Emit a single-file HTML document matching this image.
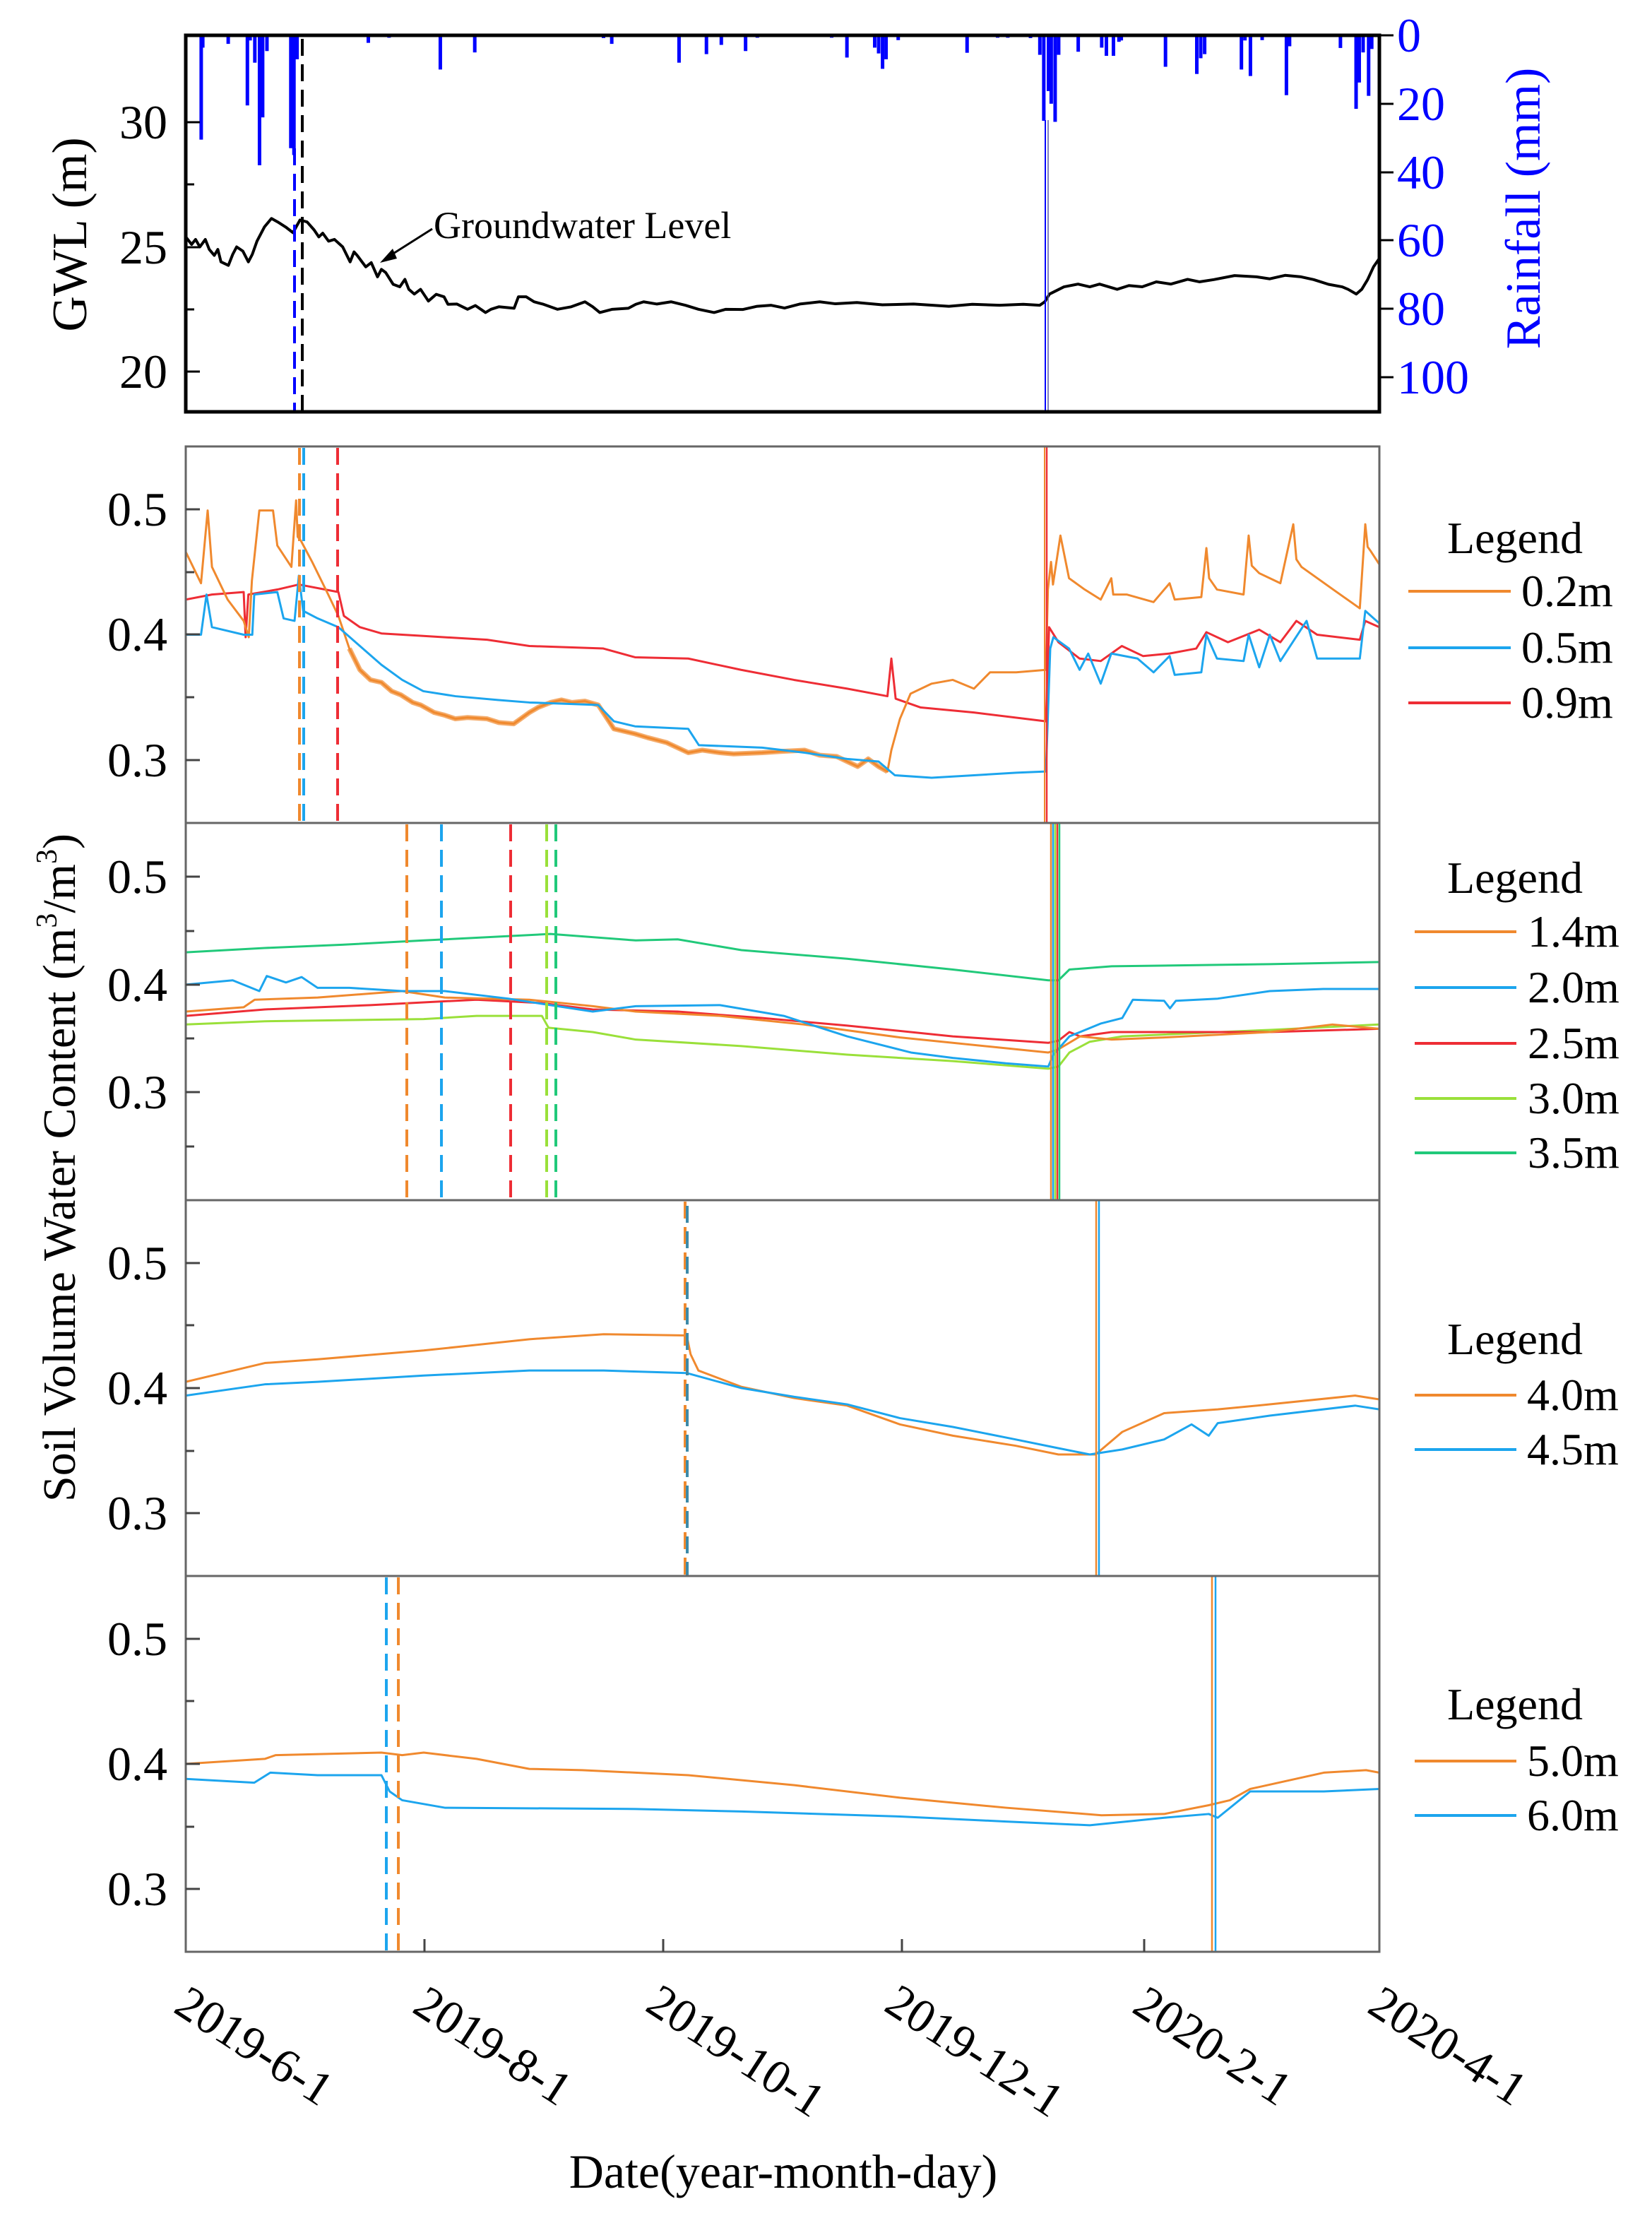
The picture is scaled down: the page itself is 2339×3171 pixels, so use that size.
<!DOCTYPE html>
<html><head><meta charset="utf-8"><style>
html,body{margin:0;padding:0;background:#fff}
svg{display:block}
text{font-family:"Liberation Serif",serif}
</style></head><body>
<svg width="2339" height="3171" viewBox="0 0 2339 3171" xmlns="http://www.w3.org/2000/svg">
<rect width="2339" height="3171" fill="#fff"/>

<!-- ===== TOP PANEL ===== -->
<svg x="263" y="50" width="1690" height="533" viewBox="0 0 305 110.1" preserveAspectRatio="none">
<g fill="#0000ff">
<rect x="3.5" y="0" width="0.9" height="30.5"/><rect x="3.9" y="0" width="0.9" height="3.6"/>
<rect x="10.4" y="0" width="0.9" height="2.5"/><rect x="15.3" y="0" width="0.9" height="20.5"/>
<rect x="16" y="0" width="0.9" height="1.5"/><rect x="17.2" y="0" width="0.9" height="8"/>
<rect x="18.4" y="0" width="0.9" height="38"/><rect x="19.2" y="0" width="0.9" height="24"/>
<rect x="20.3" y="0" width="0.9" height="4.6"/><rect x="26.4" y="0" width="0.9" height="33"/>
<rect x="27.2" y="0" width="0.9" height="35"/><rect x="28" y="0" width="0.9" height="7"/>
<rect x="46.2" y="0" width="0.9" height="2.2"/><rect x="51.5" y="0" width="0.9" height="0.7"/>
<rect x="64.6" y="0" width="0.9" height="10"/><rect x="73.4" y="0" width="0.9" height="5"/>
<rect x="106.3" y="0" width="0.9" height="0.8"/><rect x="108.4" y="0" width="0.9" height="2.5"/>
<rect x="125.6" y="0" width="0.9" height="8"/><rect x="132.6" y="0" width="0.9" height="5.5"/>
<rect x="136.4" y="0" width="0.9" height="2.8"/><rect x="142.6" y="0" width="0.9" height="4.6"/>
<rect x="145.6" y="0" width="0.9" height="0.7"/><rect x="164.6" y="0" width="0.9" height="0.7"/>
<rect x="168.5" y="0" width="0.9" height="6.5"/><rect x="175.6" y="0" width="0.9" height="3.6"/>
<rect x="176.6" y="0" width="0.9" height="5.3"/><rect x="177.6" y="0" width="0.9" height="9.8"/>
<rect x="178.5" y="0" width="0.9" height="7"/><rect x="181.6" y="0" width="0.9" height="1.4"/>
<rect x="199.2" y="0" width="0.9" height="5.1"/><rect x="207" y="0" width="0.9" height="0.7"/>
<rect x="209.6" y="0" width="0.9" height="0.7"/><rect x="215.4" y="0" width="0.9" height="0.8"/>
<rect x="217.8" y="0" width="0.9" height="5.7"/><rect x="218.8" y="0" width="0.9" height="25"/>
<rect x="220" y="0" width="0.9" height="16.3"/><rect x="220.7" y="0" width="0.9" height="20"/>
<rect x="221.7" y="0" width="0.9" height="25.3"/><rect x="222.6" y="0" width="0.9" height="5.7"/>
<rect x="227.6" y="0" width="0.9" height="4.8"/><rect x="233.6" y="0" width="0.9" height="3.6"/>
<rect x="234.8" y="0" width="0.9" height="6"/><rect x="236.6" y="0" width="0.9" height="6"/>
<rect x="238" y="0" width="0.9" height="1.9"/><rect x="238.6" y="0" width="0.9" height="1.5"/>
<rect x="249.9" y="0" width="0.9" height="9.2"/><rect x="257.9" y="0" width="0.9" height="11.3"/>
<rect x="258.9" y="0" width="0.9" height="6.7"/><rect x="259.9" y="0" width="0.9" height="5.5"/>
<rect x="269.3" y="0" width="0.9" height="10"/><rect x="270.2" y="0" width="0.9" height="1.5"/>
<rect x="271.6" y="0" width="0.9" height="11.9"/><rect x="274.6" y="0" width="0.9" height="1.4"/>
<rect x="280.8" y="0" width="0.9" height="17.5"/><rect x="281.6" y="0" width="0.9" height="3.2"/>
<rect x="294.6" y="0" width="0.9" height="3.7"/><rect x="298.6" y="0" width="0.9" height="21.5"/>
<rect x="299.4" y="0" width="0.9" height="13.8"/><rect x="300.4" y="0" width="0.9" height="5"/>
<rect x="301.8" y="0" width="0.9" height="17.7"/><rect x="302.6" y="0" width="0.9" height="4"/>
</g>
</svg>
<svg x="263" y="50" width="1690" height="533" viewBox="0 -3348 305 1509" preserveAspectRatio="none">
<polyline fill="none" stroke="#000" stroke-width="4" vector-effect="non-scaling-stroke" stroke-linejoin="round" points="0,-2540 1.5,-2510 2.5,-2530 3.6,-2500 5,-2530 6,-2490 7.3,-2466 8.2,-2490 9,-2440 10.9,-2426 12,-2470 13,-2500 14.6,-2483 16,-2440 17,-2470 18.2,-2523 20.1,-2580 21.9,-2614 23.5,-2600 25.5,-2580 27.4,-2557 29.2,-2608 31,-2600 32.8,-2568 34,-2540 35,-2555 36.5,-2523 38,-2530 40.1,-2500 42,-2440 43,-2480 43.8,-2466 46,-2420 47.4,-2437 49,-2380 50,-2410 51.1,-2397 53,-2350 54.7,-2340 56,-2370 57,-2330 58.4,-2311 60,-2330 62,-2283 64,-2310 66,-2300 67,-2270 69.3,-2271 72,-2250 74,-2265 76.6,-2237 78,-2250 80,-2260 83.9,-2254 85,-2300 87,-2300 89,-2280 91.2,-2271 95,-2250 98.5,-2260 102,-2280 104,-2260 105.8,-2237 109,-2250 113.1,-2254 115,-2270 117,-2280 120.4,-2271 124,-2280 127.7,-2266 131,-2250 135,-2237 138,-2250 142.3,-2249 146,-2262 149.6,-2266 153,-2255 156.9,-2271 162,-2280 166,-2272 171.5,-2277 178,-2268 186,-2271 195,-2262 201,-2270 208,-2266 214,-2270 218.2,-2266 219.5,-2280 220.7,-2311 224.4,-2340 228,-2351 231,-2340 233.5,-2351 238,-2330 241,-2345 244.4,-2340 248,-2360 251.7,-2351 256,-2370 259,-2360 262.7,-2369 268,-2385 273.6,-2380 277,-2372 280.9,-2386 285,-2380 288.2,-2369 292,-2350 295.5,-2340 297,-2330 299.1,-2311 300.5,-2330 302,-2369 303.5,-2420 305,-2454"/>
</svg>
<line x1="417" y1="210" x2="417" y2="583" stroke="#0000ff" stroke-width="4" stroke-dasharray="24,12"/>
<line x1="428" y1="55" x2="428" y2="583" stroke="#000" stroke-width="4" stroke-dasharray="24,12"/>
<line x1="1480" y1="170" x2="1480" y2="583" stroke="#0000ff" stroke-width="2"/>
<line x1="1484" y1="170" x2="1484" y2="583" stroke="#5555aa" stroke-width="1.5"/>
<rect x="263" y="50" width="1690" height="533" fill="none" stroke="#000" stroke-width="5"/>
<g stroke="#000" stroke-width="3">
<line x1="263" y1="173" x2="283" y2="173"/><line x1="263" y1="261" x2="275" y2="261"/>
<line x1="263" y1="350" x2="283" y2="350"/><line x1="263" y1="438" x2="275" y2="438"/>
<line x1="263" y1="526" x2="283" y2="526"/>
<line x1="1953" y1="50" x2="1973" y2="50"/><line x1="1953" y1="147" x2="1973" y2="147"/>
<line x1="1953" y1="244" x2="1973" y2="244"/><line x1="1953" y1="340" x2="1973" y2="340"/>
<line x1="1953" y1="437" x2="1973" y2="437"/><line x1="1953" y1="534" x2="1973" y2="534"/>
</g>
<g font-size="68" text-anchor="end" fill="#000">
<text x="237" y="196">30</text><text x="237" y="373">25</text><text x="237" y="549">20</text>
</g>
<g font-size="68" fill="#0000ff">
<text x="1978" y="73">0</text><text x="1978" y="170">20</text><text x="1978" y="267">40</text>
<text x="1978" y="363">60</text><text x="1978" y="460">80</text><text x="1978" y="557">100</text>
</g>
<text transform="translate(122,332) rotate(-90)" font-size="70" text-anchor="middle">GWL (m)</text>
<text transform="translate(2180,295) rotate(-90)" font-size="70" text-anchor="middle" fill="#0000ff">Rainfall (mm)</text>
<text x="614" y="337" font-size="54">Groundwater Level</text>
<line x1="612" y1="324" x2="552" y2="362" stroke="#000" stroke-width="3"/>
<polygon points="538,372 556,352 562,366" fill="#000"/>

<!-- ===== PANEL 2 ===== -->
<svg x="263" y="632" width="1690" height="533" viewBox="0 -550 305 300" preserveAspectRatio="none">
<g fill="none" stroke-linejoin="round">
<polyline stroke="#ee2d35" stroke-width="3" vector-effect="non-scaling-stroke" points="0,-428 6.7,-432 14.8,-434 15.3,-398 16,-432 23.4,-436 28.9,-440 39,-434 40.4,-415 44.5,-406 50,-401 60.7,-399 77,-396 87.8,-391 106.7,-389 114.8,-382 128.4,-381 141.9,-372 155.4,-364 169,-357 179.3,-351 180.3,-381 181.4,-349 187.8,-342 201.4,-338 219.8,-331 220.6,-406 223,-394 228.4,-381 233.8,-379 239.2,-391 244.6,-383 251.4,-385 258.2,-389 260.8,-402 266.3,-394 274.3,-404 279.7,-394 283.8,-411 289.1,-400 300,-396 301.4,-411 305,-406"/>
<polyline stroke="#f0892e" stroke-width="3" vector-effect="non-scaling-stroke" points="0,-466 3.9,-441 5.6,-499 6.7,-454 10.7,-428 14.8,-411 16.1,-398 16.9,-443 18.8,-499 22.3,-499 23.4,-471 27,-454 28.2,-507 28.6,-478 29.4,-475 32.3,-458 36.4,-432 39,-415 41.8,-389 44.5,-372 47.2,-364 50,-362 52.6,-355 55,-352 58,-346 60,-344 63.5,-338 66,-336 68.9,-333 72,-334 77,-333 80,-330 83.8,-329 87.8,-338 90,-342 93.2,-346 96,-348 98.6,-346 102,-347 105.4,-344 109.4,-325 114.8,-321 118,-318 122.9,-314 128.4,-306 132,-308 136.5,-306 140,-305 147.3,-306 152,-307 158.1,-308 162,-304 166.3,-303 171.7,-295 174.4,-301 177,-295 179.3,-291 180.3,-308 182.5,-333 185.2,-353 190.6,-361 196,-364 201.4,-357 205.5,-370 212.2,-370 219.8,-372 220.3,-436 221.1,-458 221.6,-440 223.5,-479 225.7,-445 229.7,-436 233.8,-428 236.5,-445 237,-432 240.5,-432 247.3,-426 251.4,-441 252.7,-428 259.5,-430 260.8,-469 261.5,-445 263.5,-436 270.3,-432 271.6,-479 272.4,-455 274.3,-449 279.7,-441 283,-488 283.8,-460 285.1,-454 293.2,-436 300,-421 301.4,-488 302,-470 302.7,-467 305,-456"/>
<polyline stroke="#f0892e" stroke-width="7" stroke-opacity="0.7" vector-effect="non-scaling-stroke" points="41.8,-389 44.5,-372 47.2,-364 50,-362 52.6,-355 55,-352 58,-346 60,-344 63.5,-338 66,-336 68.9,-333 72,-334 77,-333 80,-330 83.8,-329 87.8,-338 90,-342 93.2,-346 96,-348 98.6,-346 102,-347 105.4,-344 109.4,-325 114.8,-321 118,-318 122.9,-314 128.4,-306 132,-308 136.5,-306 140,-305 147.3,-306 152,-307 158.1,-308 162,-304 166.3,-303 171.7,-295 174.4,-301 177,-295 179.3,-291"/>
<polyline stroke="#1ca5ee" stroke-width="3" vector-effect="non-scaling-stroke" points="0,-400 3.9,-400 5.3,-432 6.7,-406 14.8,-400 17,-400 17.5,-432 23.4,-434 25,-413 27.8,-411 28.9,-447 30,-419 33.7,-413 39,-406 44.5,-391 50,-376 55.3,-364 60.7,-355 68.9,-351 79.7,-348 87.8,-346 105.4,-344 109.4,-331 114.8,-327 128.4,-325 131.1,-312 147.3,-310 158.1,-306 169,-301 177,-299 181.2,-288 190.6,-286 201.4,-288 212.2,-290 219.8,-291 220.9,-389 221.7,-398 225.7,-389 228.4,-372 230.6,-385 233.8,-361 236.5,-385 243.2,-381 247.3,-370 251.4,-383 252.7,-368 259.5,-370 260.8,-400 263.5,-381 270.3,-379 271.6,-400 274.3,-374 277,-400 279.7,-379 286.4,-411 289.1,-381 300,-381 301.4,-419 305,-409"/>
</g>
</svg>
<line x1="424" y1="634" x2="424" y2="1165" stroke="#f0892e" stroke-width="4" stroke-dasharray="24,12"/>
<line x1="430" y1="634" x2="430" y2="1165" stroke="#1ca5ee" stroke-width="4" stroke-dasharray="24,12"/>
<line x1="478" y1="634" x2="478" y2="1165" stroke="#ee2d35" stroke-width="4" stroke-dasharray="24,12"/>
<line x1="1479" y1="632" x2="1479" y2="1165" stroke="#f0892e" stroke-width="2"/>
<line x1="1482" y1="632" x2="1482" y2="1165" stroke="#ee2d35" stroke-width="2.5"/>

<!-- ===== PANEL 3 ===== -->
<svg x="263" y="1165" width="1690" height="534" viewBox="0 -550 305 350" preserveAspectRatio="none">
<g fill="none" stroke-linejoin="round">
<polyline stroke="#21c97a" stroke-width="3" vector-effect="non-scaling-stroke" points="0,-430 20.2,-434 40,-437 60.8,-441 93.2,-447 115,-441 125.7,-442 142,-432 169,-424 196,-414 220.4,-404 223,-404 225.8,-414 236.6,-417 277,-419 305,-421"/>
<polyline stroke="#9ae03a" stroke-width="3" vector-effect="non-scaling-stroke" points="0,-363 20.2,-366 60.8,-368 74.3,-371 91,-371 92.7,-360 104,-356 115,-349 142,-343 169,-335 196,-329 220.4,-322 223,-324 225.8,-337 231,-347 239.3,-352 277,-358 305,-363"/>
<polyline stroke="#ee2d35" stroke-width="3" vector-effect="non-scaling-stroke" points="0,-371 20.2,-377 47.2,-381 74.3,-386 90.5,-383 104,-377 125.7,-375 147.3,-369 169,-362 196,-352 220.4,-346 223,-348 225.8,-356 228.5,-352 236.6,-356 277,-356 305,-359"/>
<polyline stroke="#f0892e" stroke-width="3" vector-effect="non-scaling-stroke" points="0,-375 14.8,-379 17.6,-386 33.7,-388 55.3,-394 66.2,-388 87.8,-386 104,-380 115,-375 136.5,-371 158,-363 182.5,-351 220.4,-337 223,-340 228.5,-352 236.6,-349 250,-351 277,-356 293,-363 305,-359"/>
<polyline stroke="#1ca5ee" stroke-width="3" vector-effect="non-scaling-stroke" points="0,-400 12,-404 18.8,-394 20.7,-408 25.6,-402 29.6,-407 33.7,-397 41.8,-397 55.3,-394 66.2,-394 82.4,-387 93.2,-381 104,-375 115,-380 136.5,-381 152.8,-371 169,-352 185.3,-337 196,-332 209.6,-327 220.4,-324 221.7,-335 225.8,-352 233.9,-364 239.3,-369 242,-386 250,-385 251.5,-378 253,-385 263.7,-387 277,-394 290.7,-396 305,-396"/>
</g>
</svg>
<g stroke-width="4" stroke-dasharray="24,12">
<line x1="576" y1="1167" x2="576" y2="1699" stroke="#f0892e"/>
<line x1="625" y1="1167" x2="625" y2="1699" stroke="#1ca5ee"/>
<line x1="723" y1="1167" x2="723" y2="1699" stroke="#ee2d35"/>
<line x1="774" y1="1167" x2="774" y2="1699" stroke="#9ae03a"/>
<line x1="787" y1="1167" x2="787" y2="1699" stroke="#21c97a"/>
</g>
<g stroke-width="2.5">
<line x1="1488" y1="1165" x2="1488" y2="1699" stroke="#f0892e"/>
<line x1="1491" y1="1165" x2="1491" y2="1699" stroke="#1ca5ee"/>
<line x1="1494" y1="1165" x2="1494" y2="1699" stroke="#9ae03a"/>
<line x1="1497" y1="1165" x2="1497" y2="1699" stroke="#ee2d35"/>
<line x1="1500" y1="1165" x2="1500" y2="1699" stroke="#21c97a"/>
</g>

<!-- ===== PANEL 4 ===== -->
<svg x="263" y="1699" width="1690" height="532" viewBox="0 -550 305 300" preserveAspectRatio="none">
<g fill="none" stroke-linejoin="round">
<polyline stroke="#f0892e" stroke-width="3" vector-effect="non-scaling-stroke" points="0,-405 20.2,-420 33.7,-423 60.8,-430 87.8,-439 106.8,-443 128,-442 129,-427 131,-414 142,-401 155.5,-392 169,-386 182.5,-371 196,-362 212,-354 223,-347 232.5,-347 239.3,-365 250,-380 263.7,-383 277,-387 298.8,-394 305,-391"/>
<polyline stroke="#1ca5ee" stroke-width="3" vector-effect="non-scaling-stroke" points="0,-394 20.2,-403 33.7,-405 60.8,-410 87.8,-414 106.8,-414 128,-412 142,-400 155.5,-393 169,-387 182.5,-376 196,-369 212,-359 223,-352 231,-347 239.3,-351 250,-359 257,-371 261.4,-362 263.7,-372 277,-378 298.8,-386 305,-383"/>
</g>
</svg>
<line x1="970" y1="1701" x2="970" y2="2231" stroke="#f0892e" stroke-width="4" stroke-dasharray="24,12"/>
<line x1="973" y1="1707" x2="973" y2="2231" stroke="#3d8aa8" stroke-width="4" stroke-dasharray="24,12"/>
<line x1="1552" y1="1699" x2="1552" y2="2231" stroke="#f0892e" stroke-width="2.5"/>
<line x1="1556" y1="1699" x2="1556" y2="2231" stroke="#1ca5ee" stroke-width="2.5"/>

<!-- ===== PANEL 5 ===== -->
<svg x="263" y="2231" width="1690" height="532" viewBox="0 -550 305 300" preserveAspectRatio="none">
<g fill="none" stroke-linejoin="round">
<polyline stroke="#f0892e" stroke-width="3" vector-effect="non-scaling-stroke" points="0,-400 20.2,-404 23,-407 50,-409 55.3,-407 60.8,-409 74.3,-404 87.8,-396 101.3,-395 128.4,-391 155.5,-383 182.5,-373 209.6,-365 234,-359 250,-360 261.4,-367 266.8,-371 272,-380 290.8,-393 301.6,-395 305,-393"/>
<polyline stroke="#1ca5ee" stroke-width="3" vector-effect="non-scaling-stroke" points="0,-388 17.5,-385 21.6,-393 33.7,-391 50,-391 52.1,-378 55.3,-371 66.2,-365 115,-364 142,-362 182.5,-358 209.6,-354 231,-351 250,-357 261.4,-360 263.7,-357 272,-378 290.8,-378 305,-380"/>
</g>
</svg>
<line x1="547" y1="2233" x2="547" y2="2763" stroke="#1ca5ee" stroke-width="4" stroke-dasharray="24,12"/>
<line x1="564" y1="2233" x2="564" y2="2763" stroke="#f0892e" stroke-width="4" stroke-dasharray="24,12"/>
<line x1="1716" y1="2231" x2="1716" y2="2763" stroke="#f0892e" stroke-width="2.5"/>
<line x1="1721" y1="2231" x2="1721" y2="2763" stroke="#1ca5ee" stroke-width="2.5"/>

<!-- frames panels 2-5 -->
<g fill="none" stroke="#666" stroke-width="3">
<rect x="263" y="632" width="1690" height="2131"/>
<line x1="263" y1="1165" x2="1953" y2="1165"/>
<line x1="263" y1="1699" x2="1953" y2="1699"/>
<line x1="263" y1="2231" x2="1953" y2="2231"/>
</g>
<g stroke="#444" stroke-width="3">
<line x1="263" y1="721" x2="283" y2="721"/><line x1="263" y1="810" x2="275" y2="810"/>
<line x1="263" y1="898" x2="283" y2="898"/><line x1="263" y1="987" x2="275" y2="987"/>
<line x1="263" y1="1076" x2="283" y2="1076"/>
<line x1="263" y1="1241" x2="283" y2="1241"/><line x1="263" y1="1318" x2="275" y2="1318"/>
<line x1="263" y1="1394" x2="283" y2="1394"/><line x1="263" y1="1470" x2="275" y2="1470"/>
<line x1="263" y1="1546" x2="283" y2="1546"/><line x1="263" y1="1623" x2="275" y2="1623"/>
<line x1="263" y1="1788" x2="283" y2="1788"/><line x1="263" y1="1876" x2="275" y2="1876"/>
<line x1="263" y1="1965" x2="283" y2="1965"/><line x1="263" y1="2054" x2="275" y2="2054"/>
<line x1="263" y1="2142" x2="283" y2="2142"/>
<line x1="263" y1="2320" x2="283" y2="2320"/><line x1="263" y1="2408" x2="275" y2="2408"/>
<line x1="263" y1="2497" x2="283" y2="2497"/><line x1="263" y1="2586" x2="275" y2="2586"/>
<line x1="263" y1="2674" x2="283" y2="2674"/>
<line x1="601" y1="2763" x2="601" y2="2745"/><line x1="939" y1="2763" x2="939" y2="2745"/>
<line x1="1277" y1="2763" x2="1277" y2="2745"/><line x1="1620" y1="2763" x2="1620" y2="2745"/>
</g>
<g font-size="68" text-anchor="end">
<text x="237" y="744">0.5</text><text x="237" y="921">0.4</text><text x="237" y="1099">0.3</text>
<text x="237" y="1264">0.5</text><text x="237" y="1417">0.4</text><text x="237" y="1569">0.3</text>
<text x="237" y="1811">0.5</text><text x="237" y="1988">0.4</text><text x="237" y="2165">0.3</text>
<text x="237" y="2343">0.5</text><text x="237" y="2520">0.4</text><text x="237" y="2697">0.3</text>
</g>
<text transform="translate(106,1653) rotate(-90)" font-size="66" text-anchor="middle">Soil Volume Water Content (m<tspan font-size="42" dy="-26">3</tspan><tspan dy="26">/m</tspan><tspan font-size="42" dy="-26">3</tspan><tspan dy="26">)</tspan></text>

<!-- legends -->
<g font-size="64">
<text x="2145" y="783" text-anchor="middle">Legend</text>
<text x="2154" y="858">0.2m</text><text x="2154" y="938">0.5m</text><text x="2154" y="1016">0.9m</text>
<text x="2145" y="1264" text-anchor="middle">Legend</text>
<text x="2163" y="1340">1.4m</text><text x="2163" y="1419">2.0m</text><text x="2163" y="1498">2.5m</text>
<text x="2163" y="1576">3.0m</text><text x="2163" y="1653">3.5m</text>
<text x="2145" y="1917" text-anchor="middle">Legend</text>
<text x="2162" y="1996">4.0m</text><text x="2162" y="2073">4.5m</text>
<text x="2145" y="2434" text-anchor="middle">Legend</text>
<text x="2162" y="2514">5.0m</text><text x="2162" y="2591">6.0m</text>
</g>
<g stroke-width="4">
<line x1="1994" y1="837" x2="2139" y2="837" stroke="#f0892e"/>
<line x1="1994" y1="917" x2="2139" y2="917" stroke="#1ca5ee"/>
<line x1="1994" y1="995" x2="2139" y2="995" stroke="#ee2d35"/>
<line x1="2003" y1="1319" x2="2147" y2="1319" stroke="#f0892e"/>
<line x1="2003" y1="1398" x2="2147" y2="1398" stroke="#1ca5ee"/>
<line x1="2003" y1="1477" x2="2147" y2="1477" stroke="#ee2d35"/>
<line x1="2003" y1="1555" x2="2147" y2="1555" stroke="#9ae03a"/>
<line x1="2003" y1="1632" x2="2147" y2="1632" stroke="#21c97a"/>
<line x1="2003" y1="1975" x2="2147" y2="1975" stroke="#f0892e"/>
<line x1="2003" y1="2052" x2="2147" y2="2052" stroke="#1ca5ee"/>
<line x1="2003" y1="2493" x2="2147" y2="2493" stroke="#f0892e"/>
<line x1="2003" y1="2570" x2="2147" y2="2570" stroke="#1ca5ee"/>
</g>

<!-- x labels -->
<g font-size="68" text-anchor="middle">
<text transform="translate(348,2915) rotate(33)">2019-6-1</text>
<text transform="translate(686,2915) rotate(33)">2019-8-1</text>
<text transform="translate(1030,2922) rotate(33)">2019-10-1</text>
<text transform="translate(1368,2922) rotate(33)">2019-12-1</text>
<text transform="translate(1705,2915) rotate(33)">2020-2-1</text>
<text transform="translate(2038,2915) rotate(33)">2020-4-1</text>
</g>
<text x="1109" y="3097" font-size="68" text-anchor="middle">Date(year-month-day)</text>
</svg>
</body></html>
